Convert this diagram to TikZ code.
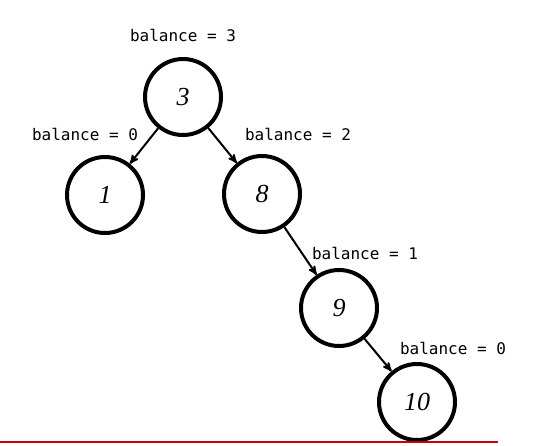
\documentclass[tikz,border=0pt]{standalone}
\usepackage{fontspec}
\setmainfont{Liberation Serif}
\setmonofont{DejaVu Sans Mono}
\usetikzlibrary{arrows,positioning}

\begin{document}
\begin{tikzpicture}[x=1pt,y=1pt,->,>=stealth',on grid,
        treenode/.style={circle,draw,line width=4pt,minimum size=76pt,inner sep=0pt,
          font=\fontsize{26}{30}\selectfont\itshape},
        lbl/.style={inner sep=0pt,font=\fontsize{16}{18}\selectfont\ttfamily},
        edge/.style={line width=2pt}]

  \useasboundingbox (0,0) rectangle (540,-445);

  \node[treenode] (n3) at (183,-97) {3};
  \node[treenode] (n1) [below left=98pt and 78pt of n3] {1};
  \node[treenode] (n8) [below right=97pt and 79pt of n3] {8};
  \node[treenode] (n9) [below right=114pt and 77pt of n8] {9};
  \node[treenode] (n10) [below right=94pt and 78pt of n9] {10};

  % balance labels
  \node[lbl] (b3) [above=62pt of n3] {balance = 3};
  \node[lbl] (b1) [above left=61pt and 20pt of n1] {balance = 0};
  \node[lbl] (b8) [above right=60pt and 36pt of n8] {balance = 2};
  \node[lbl] (b9) [above right=55pt and 26pt of n9] {balance = 1};
  \node[lbl] (b10) [above right=54pt and 36pt of n10] {balance = 0};

  \path (n3) edge [edge] (n1)
        (n3) edge [edge] (n8)
        (n8) edge [edge] (n9)
        (n9) edge [edge] (n10);

  \coordinate (base l) at (0,-442);
  \coordinate (base r) at (498,-442);
  \draw[-,red!80!black,line width=2pt] (base l) -- (base r);

\end{tikzpicture}
\end{document}
